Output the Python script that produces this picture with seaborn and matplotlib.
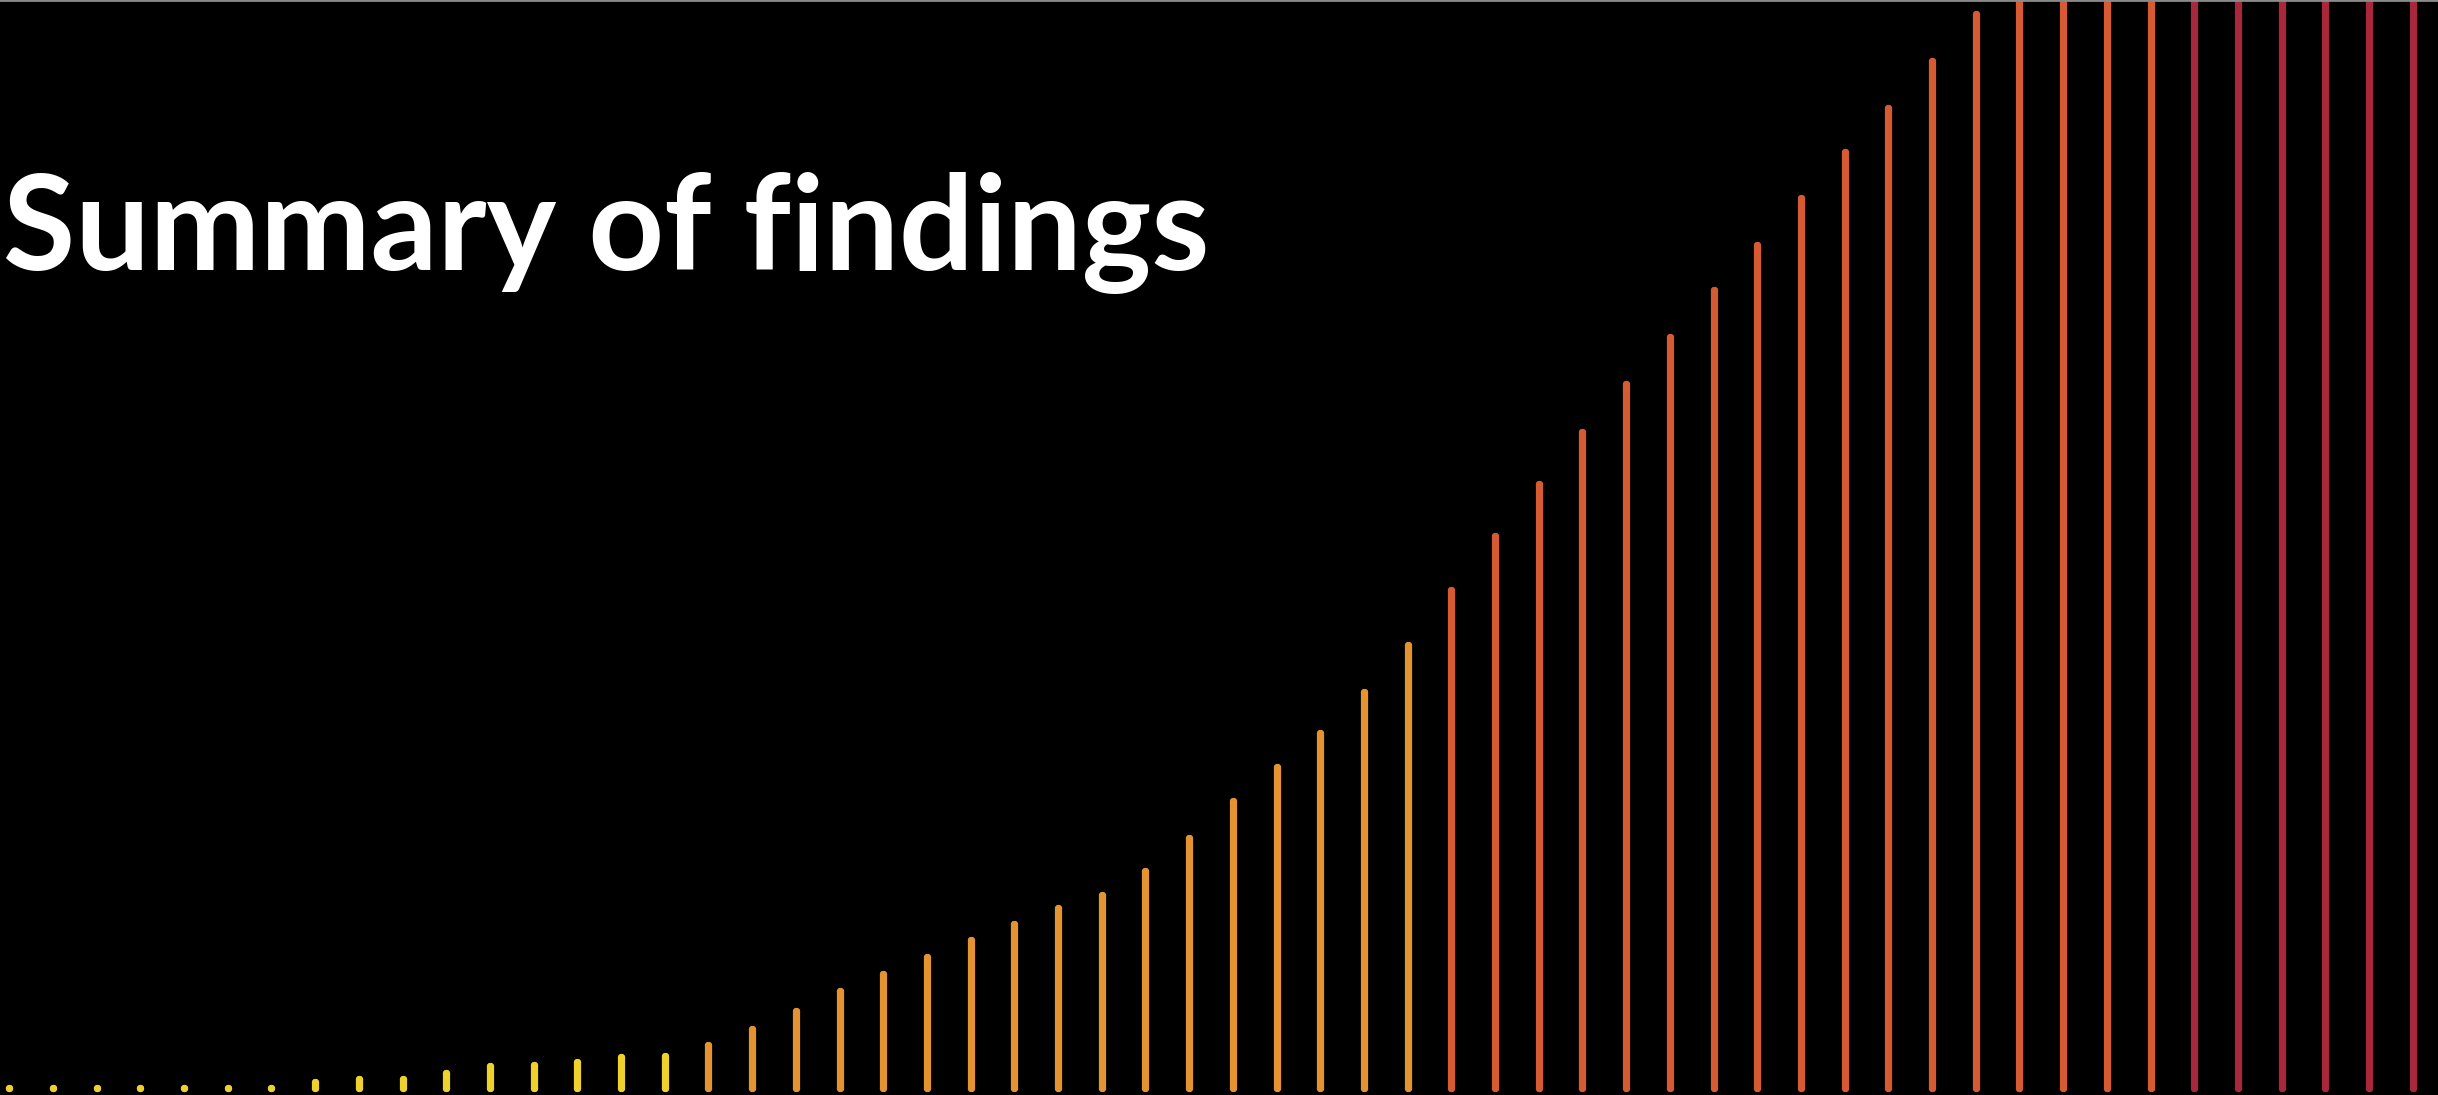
import numpy as np
import pandas as pd
import matplotlib
matplotlib.use("Agg")
import matplotlib.pyplot as plt
import seaborn as sns

# Bar heights (index scale, 100 = top of frame), left to right
values = [
    0.0, 0.0, 0.0, 0.0, 0.0, 0.0, 0.0, 0.56, 0.80, 0.80,
    1.39, 2.03, 2.15, 2.40, 2.82, 2.98, 3.92, 5.40, 7.11, 8.89,
    10.51, 12.05, 13.58, 15.08, 16.55, 17.71, 19.95, 23.01, 26.35, 29.48,
    32.64, 36.37, 40.69, 45.74, 50.71, 55.55, 60.30, 64.74, 69.03, 73.32,
    77.45, 81.81, 86.00, 90.11, 94.40, 98.69, 102.9, 107.2, 111.0, 115.4,
    119.3, 123.8, 127.5, 131.9, 136.0, 140.2,
]
# Colour band each bar belongs to
bands = ["low"] * 16 + ["mid"] * 17 + ["high"] * 17 + ["top"] * 6
band_colors = {
    "low": "#EFD12C",
    "mid": "#E39330",
    "high": "#D65B33",
    "top": "#A9273A",
}
title = "Summary of findings"

# Long-form table: each bar is a vertical segment from 0 to its value
rows = []
for i, (v, b) in enumerate(zip(values, bands)):
    rows.append({"bar": i, "x": i, "y": 0.0, "band": b})
    rows.append({"bar": i, "x": i, "y": v, "band": b})
df = pd.DataFrame(rows)

sns.set_theme(style="dark")
W, H, DPI = 2438, 1095, 100
fig = plt.figure(figsize=(W / DPI, H / DPI), dpi=DPI, facecolor="black")
ax = fig.add_axes([0, 0, 1, 1])
ax.set_facecolor("black")

LW = 5.2
sns.lineplot(
    data=df, x="x", y="y", units="bar", estimator=None, hue="band",
    palette=band_colors, sort=False, linewidth=LW, legend=False, ax=ax,
    marker="o", markersize=LW, markeredgewidth=0,
)
for ln in ax.lines:
    ln.set_solid_capstyle("round")

# Bar spacing: first bar near the left edge, last near the right edge
step = (2412.7 - 9.3) / 55
ax.set_xlim(-9.3 / step, (W - 9.3) / step)
unit = 1088.0 / 100.0
ax.set_ylim(-(H - 1088.0) / unit, 1088.0 / unit)

ax.set_xticks([])
ax.set_yticks([])
ax.set_xlabel("")
ax.set_ylabel("")
ax.grid(False)
for side in ("left", "right", "bottom"):
    ax.spines[side].set_visible(False)
ax.spines["top"].set_visible(True)
ax.spines["top"].set_color("#8a8a8a")
ax.spines["top"].set_linewidth(2.0)

fig.text(
    3 / W, 1 - 270 / H, title, color="white", fontsize=95,
    fontweight="bold", family=["Lato", "DejaVu Sans"],
    ha="left", va="baseline",
)

fig.savefig("out.png", dpi=DPI, facecolor="black")
